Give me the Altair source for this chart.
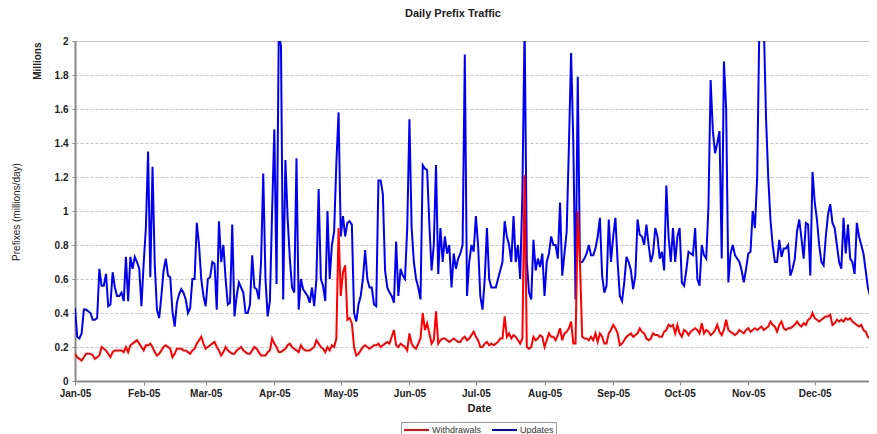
import altair as alt
import pandas as pd

# ---- data (millions of prefixes per day, 2005, day index from Jan 1) ----
upd_jan = [0.43,0.26,0.25,0.28,0.42,0.42,0.41,0.40,0.36,0.36, 0.37,0.66,0.56,0.56,0.63,0.44,0.45,0.64,0.55,0.50, 0.50,0.52,0.47,0.73,0.47,0.73,0.66,0.73,0.70,0.66, 0.44]
upd_feb = [0.69,0.90,1.35,0.61,1.26,0.69,0.42,0.37,0.50,0.65, 0.72,0.62,0.61,0.41,0.32,0.46,0.51,0.54,0.52,0.48, 0.40,0.43,0.60,0.60,0.93,0.80,0.60,0.50]
upd_mar = [0.44,0.60,0.61,0.70,0.69,0.42,0.94,0.70,0.80,0.60, 0.45,0.46,0.92,0.38,0.50,0.58,0.55,0.52,0.40,0.40, 0.45,0.74,0.55,0.54,0.48,0.70,1.22,0.60,0.38,0.47, 1.00]
upd_apr = [1.48,0.57,2.05,1.97,0.48,1.30,0.96,0.72,0.55,0.52, 1.31,0.42,0.60,0.54,0.52,0.50,0.46,0.55,0.44,0.60, 1.13,0.60,0.56,0.47,1.00,0.60,0.80,0.88,1.28,1.58]
upd_may = [0.85,0.97,0.85,0.93,0.94,0.92,0.40,0.35,0.45,0.50, 0.60,0.77,0.60,0.55,0.55,0.45,0.44,1.18,1.18,1.10, 0.65,0.55,0.52,0.50,0.46,0.82,0.50,0.66,0.62,0.60, 0.90]
upd_jun = [1.54,0.90,0.70,0.60,0.55,0.48,1.27,1.25,1.24,0.92, 0.65,0.80,1.27,0.63,0.90,0.70,0.85,0.75,0.80,0.55, 0.75,0.66,0.72,0.75,0.80,1.92,0.50,0.70,0.80,0.76]
upd_jul = [0.97,0.80,0.50,0.42,0.60,0.90,0.60,0.55,0.55,0.55, 0.60,0.65,0.70,0.94,0.85,0.80,0.70,0.97,0.70,0.80, 0.60,1.10,2.10,0.70,0.52,0.48,0.83,0.65,0.72,0.67, 0.75]
upd_aug = [0.50,0.70,0.75,0.85,0.80,0.80,0.72,1.05,0.62,0.75, 0.88,1.38,1.93,1.40,0.48,1.79,0.70,0.70,0.72,0.75, 0.80,0.74,0.74,0.78,0.85,0.96,0.62,0.52,0.56,0.95, 0.70]
upd_sep = [0.85,0.96,0.70,0.50,0.47,0.58,0.73,0.70,0.65,0.54, 0.62,0.95,0.86,0.85,0.80,0.92,0.80,0.70,0.75,0.90, 0.85,0.72,0.76,0.65,1.15,0.85,0.70,0.90,0.70,0.85]
upd_oct = [0.90,0.58,0.56,0.65,0.76,0.75,0.74,0.90,0.60,0.56, 0.80,0.74,0.72,1.02,1.77,1.47,1.34,1.40,1.47,0.72, 1.88,1.60,0.58,0.75,0.80,0.74,0.72,0.70,0.65,0.58, 0.66]
upd_nov = [0.75,0.76,1.00,0.90,1.20,2.10,2.30,2.10,1.55,1.20, 0.95,0.80,0.70,0.70,0.83,0.73,0.78,0.78,0.80,0.62, 0.66,0.72,0.88,0.95,0.84,0.72,0.93,0.92,0.62,1.23]
upd_dec = [1.05,0.95,0.80,0.70,0.68,0.85,0.98,1.04,0.93,0.90, 0.80,0.70,0.66,0.96,0.75,0.92,0.72,0.70,0.63,0.93, 0.85,0.80,0.75,0.65,0.55,0.50,0.60]

wd_jan = [0.16,0.14,0.13,0.12,0.14,0.16,0.16,0.16,0.15,0.13, 0.14,0.15,0.20,0.19,0.18,0.16,0.14,0.17,0.18,0.18, 0.18,0.18,0.17,0.20,0.17,0.21,0.22,0.23,0.24,0.22, 0.20]
wd_feb = [0.18,0.21,0.21,0.22,0.20,0.17,0.15,0.16,0.18,0.20, 0.21,0.20,0.19,0.14,0.16,0.19,0.19,0.19,0.18,0.18, 0.17,0.16,0.18,0.19,0.22,0.24,0.26,0.22]
wd_mar = [0.19,0.20,0.21,0.22,0.23,0.20,0.18,0.15,0.17,0.20, 0.18,0.17,0.16,0.16,0.18,0.19,0.20,0.18,0.17,0.16, 0.16,0.18,0.20,0.19,0.17,0.15,0.15,0.15,0.17,0.18, 0.25]
wd_apr = [0.22,0.20,0.17,0.17,0.18,0.19,0.21,0.22,0.20,0.19, 0.18,0.17,0.21,0.19,0.18,0.18,0.18,0.19,0.20,0.24, 0.22,0.20,0.19,0.17,0.20,0.18,0.21,0.20,0.25,0.90]
wd_may = [0.50,0.64,0.68,0.36,0.37,0.34,0.20,0.15,0.16,0.18, 0.20,0.21,0.20,0.19,0.20,0.21,0.21,0.22,0.20,0.21, 0.22,0.23,0.22,0.26,0.30,0.21,0.20,0.22,0.21,0.20, 0.18]
wd_jun = [0.28,0.22,0.20,0.19,0.22,0.25,0.40,0.30,0.34,0.28, 0.22,0.24,0.41,0.22,0.24,0.25,0.25,0.24,0.23,0.24, 0.25,0.24,0.23,0.23,0.25,0.26,0.24,0.25,0.27,0.29]
wd_jul = [0.26,0.24,0.20,0.20,0.22,0.23,0.21,0.22,0.21,0.22, 0.23,0.25,0.25,0.38,0.26,0.28,0.25,0.27,0.26,0.24, 0.22,0.25,1.21,0.20,0.19,0.20,0.26,0.24,0.25,0.27, 0.26]
wd_aug = [0.20,0.24,0.28,0.26,0.26,0.24,0.27,0.31,0.24,0.28, 0.29,0.31,0.35,0.22,0.22,1.00,0.69,0.26,0.25,0.25, 0.24,0.26,0.24,0.28,0.23,0.28,0.26,0.22,0.22,0.28, 0.30]
wd_sep = [0.33,0.31,0.28,0.21,0.22,0.24,0.26,0.27,0.28,0.26, 0.27,0.28,0.31,0.29,0.28,0.25,0.24,0.25,0.28,0.27, 0.27,0.26,0.26,0.29,0.30,0.33,0.32,0.33,0.28,0.33]
wd_oct = [0.28,0.26,0.30,0.29,0.27,0.29,0.30,0.31,0.30,0.28, 0.34,0.28,0.30,0.29,0.27,0.28,0.30,0.33,0.29,0.27, 0.30,0.36,0.30,0.29,0.28,0.27,0.28,0.30,0.29,0.28, 0.30]
wd_nov = [0.31,0.29,0.30,0.31,0.30,0.31,0.32,0.30,0.31,0.32, 0.35,0.33,0.32,0.29,0.33,0.35,0.31,0.30,0.31,0.31, 0.32,0.33,0.35,0.33,0.32,0.34,0.33,0.36,0.37,0.40]
wd_dec = [0.37,0.36,0.35,0.36,0.37,0.38,0.38,0.39,0.33,0.34, 0.36,0.35,0.36,0.35,0.37,0.36,0.37,0.35,0.34,0.33, 0.32,0.33,0.30,0.29,0.26,0.25,0.28]

month_starts = [0, 31, 59, 90, 120, 151, 181, 212, 243, 273, 304, 334]
month_labels = ["Jan-05", "Feb-05", "Mar-05", "Apr-05", "May-05", "Jun-05",
                "Jul-05", "Aug-05", "Sep-05", "Oct-05", "Nov-05", "Dec-05"]
y_ticks = [0, 0.2, 0.4, 0.6, 0.8, 1, 1.2, 1.4, 1.6, 1.8, 2]
series_names = ["Withdrawals", "Updates"]
series_colors = ["#ff0000", "#0000ee"]

updates = (upd_jan + upd_feb + upd_mar + upd_apr + upd_may + upd_jun +
           upd_jul + upd_aug + upd_sep + upd_oct + upd_nov + upd_dec)
withdrawals = (wd_jan + wd_feb + wd_mar + wd_apr + wd_may + wd_jun +
               wd_jul + wd_aug + wd_sep + wd_oct + wd_nov + wd_dec)
assert len(updates) == len(withdrawals), (len(updates), len(withdrawals))

n = len(updates)
df = pd.DataFrame({
    "day": list(range(n)) * 2,
    "value": withdrawals + updates,
    "series": ["Withdrawals"] * n + ["Updates"] * n,
})

FONT = "Liberation Sans"
NARROW = "Liberation Sans Narrow, Arial Narrow, Liberation Sans"
AXIS_GREY = "#8a8a8a"

label_expr = ("[" + ",".join("'%s'" % s for s in month_labels) + "][indexof(["
              + ",".join(str(v) for v in month_starts) + "], datum.value)]")

x_enc = alt.X(
    "day:Q",
    scale=alt.Scale(domain=[0, 358.5], nice=False, zero=False),
    axis=alt.Axis(
        values=month_starts, labelExpr=label_expr, title="Date", grid=False,
        domainColor=AXIS_GREY, domainWidth=2, tickColor=AXIS_GREY, tickSize=4,
        labelFont=FONT, labelFontWeight="bold", labelFontSize=10, labelColor="#222222",
        labelPadding=3, labelOverlap=False, labelFlush=False,
        titleFont=FONT, titleFontSize=11, titleFontWeight="bold", titleColor="#222222",
        titlePadding=4, titleX=404,
    ),
)
y_enc = alt.Y(
    "value:Q",
    scale=alt.Scale(domain=[0, 2], nice=False),
    axis=alt.Axis(
        values=y_ticks, format="~g", title="Millions",
        grid=True, gridColor="#c4c4c4", gridWidth=1,
        gridDash={"condition": {"test": "datum.value === 2", "value": []}, "value": [3, 2]},
        domainColor=AXIS_GREY, domainWidth=2, tickColor=AXIS_GREY, tickSize=3,
        labelFont=FONT, labelFontWeight="bold", labelFontSize=10, labelColor="#222222",
        labelPadding=4,
        titleFont=NARROW, titleFontSize=10, titleFontWeight="bold", titleColor="#222222",
        titleAnchor="end", titleAngle=270, titleAlign="right", titleBaseline="middle",
        titleX=-38, titleY=1,
    ),
)
color_enc = alt.Color(
    "series:N",
    scale=alt.Scale(domain=series_names, range=series_colors),
    legend=alt.Legend(
        title=None, orient="none", legendX=326, legendY=381, direction="horizontal",
        strokeColor="#9a9a9a", padding=2, symbolType="M-1,0H4", symbolSize=100,
        symbolStrokeWidth=2, labelFont=FONT, labelFontSize=9, labelColor="#333333",
        columnPadding=6, labelOffset=17, rowPadding=0,
    ),
)

upd_layer = alt.Chart(df).transform_filter(alt.datum.series == "Updates").mark_line(
    strokeWidth=2, clip=True
).encode(x=x_enc, y=y_enc, color=color_enc)

wd_layer = alt.Chart(df).transform_filter(alt.datum.series == "Withdrawals").mark_line(
    strokeWidth=2, clip=True
).encode(x=x_enc, y=y_enc, color=color_enc)

ytitle_df = pd.DataFrame({"t": ["Prefixes (millions/day)"]})
ytitle = alt.Chart(ytitle_df).mark_text(
    angle=270, font=NARROW, fontSize=10, color="#222222", align="center", baseline="middle"
).encode(x=alt.value(-58), y=alt.value(171), text="t:N")

chart = alt.layer(upd_layer, wd_layer, ytitle).properties(
    width=794, height=340,
    title=alt.TitleParams("Daily Prefix Traffic", font=FONT, fontSize=11, fontWeight="bold",
                          color="#222222", anchor="middle", frame="group", offset=17, dx=-19),
    autosize=alt.AutoSizeParams(type="none"),
    padding={"left": 67, "top": 33, "right": 0, "bottom": 53},
    background="white",
).configure_view(strokeWidth=0)

chart.save("out.html", embed_options={"renderer": "svg", "actions": False})
